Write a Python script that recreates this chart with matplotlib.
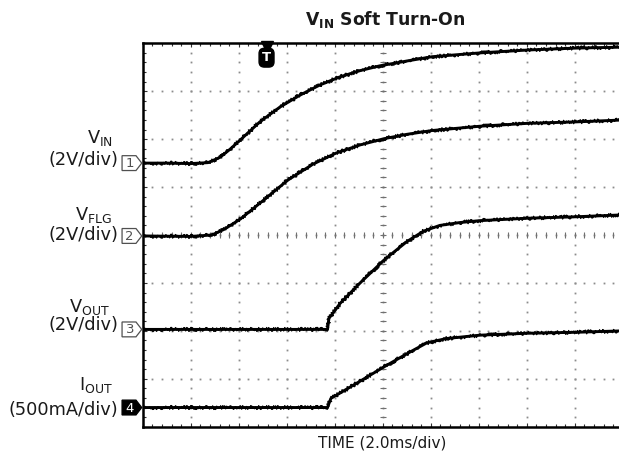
import numpy as np
import matplotlib
matplotlib.use("Agg")
import matplotlib.pyplot as plt
from matplotlib.patches import Polygon
from matplotlib.ticker import MultipleLocator

# scope traces, in screen divisions (x: 2.0ms/div, y: channel scale)
t_vin = [0, 0.5, 1.0, 1.36, 1.61, 1.82, 2.03, 2.44, 2.86, 3.28, 3.69, 4.11, 4.53, 4.94, 5.5, 6.03, 7.03, 8.02, 9.02, 10]
vin = [5.50, 5.50, 5.49, 5.51, 5.62, 5.79, 5.98, 6.36, 6.67, 6.92, 7.13, 7.30, 7.43, 7.53, 7.63, 7.72, 7.80, 7.86, 7.90, 7.92]

t_vflg = [0, 1.0, 1.44, 1.7, 2.03, 2.51, 3.03, 3.55, 4.03, 4.53, 5.03, 5.5, 6.03, 7.03, 8.02, 9.02, 10]
vflg = [3.98, 3.97, 4.00, 4.12, 4.33, 4.72, 5.15, 5.48, 5.71, 5.88, 6.01, 6.10, 6.18, 6.27, 6.33, 6.36, 6.40]

t_vout = [0, 3.85, 3.88, 4.11, 4.53, 5.03, 5.5, 5.85, 6.19, 6.61, 7.03, 8.02, 9.02, 10]
vout = [2.03, 2.03, 2.26, 2.57, 3.00, 3.48, 3.86, 4.08, 4.20, 4.26, 4.30, 4.35, 4.38, 4.42]

t_iout = [0, 3.85, 3.92, 4.53, 5.03, 5.5, 5.92, 6.33, 7.03, 8.02, 9.02, 10]
iout = [0.40, 0.40, 0.59, 0.95, 1.25, 1.52, 1.75, 1.84, 1.91, 1.95, 1.97, 2.00]

traces = [(t_vin, vin), (t_vflg, vflg), (t_vout, vout), (t_iout, iout)]
ch_names = [r"$\mathregular{V_{IN}}$", r"$\mathregular{V_{FLG}}$",
            r"$\mathregular{V_{OUT}}$", r"$\mathregular{I_{OUT}}$"]
ch_scales = ["(2V/div)", "(2V/div)", "(2V/div)", "(500mA/div)"]
trig_pos = 2.58

W, H = 619, 463
fig = plt.figure(figsize=(W / 100, H / 100), dpi=100)
fig.patch.set_facecolor("white")

def fx(px):
    return px / W

def fy(py):
    return 1 - py / H

ax = fig.add_axes([fx(142.7), fy(426.7), 480 / W, 383.4 / H])
ax.set_xlim(0, 10)
ax.set_ylim(0, 8)

# graticule: dotted lines every division, 5 dots per division
dots = np.arange(0, 10.01, 0.2)
dots_y = np.arange(0, 8.01, 0.2)
for gx in range(1, 10):
    ax.plot(np.full_like(dots_y, gx), dots_y, ls="none", marker="s", ms=1.3,
            mew=0, color="#8c8c8c", zorder=1)
for gy in range(1, 8):
    ax.plot(dots, np.full_like(dots, gy), ls="none", marker="s", ms=1.3,
            mew=0, color="#8c8c8c", zorder=1)
# centre cross has small tick marks
ax.plot(dots, np.full_like(dots, 4), ls="none", marker="|", ms=4, mew=0.8,
        color="#707070", zorder=1)
ax.plot(np.full_like(dots_y, 5), dots_y, ls="none", marker="_", ms=4, mew=0.8,
        color="#707070", zorder=1)

ax.xaxis.set_major_locator(MultipleLocator(1))
ax.xaxis.set_minor_locator(MultipleLocator(0.2))
ax.yaxis.set_major_locator(MultipleLocator(1))
ax.yaxis.set_minor_locator(MultipleLocator(0.2))
ax.tick_params(which="both", direction="in", top=True, right=True,
               labelbottom=False, labelleft=False, color="#333333", width=0.8)
ax.tick_params(which="major", length=3)
ax.tick_params(which="minor", length=2.2)
for sp in ax.spines.values():
    sp.set_linewidth(1.8)
    sp.set_color("black")

# thick trace plus fuzzy overlays for the sampling noise
for t, v in traces:
    ax.plot(t, v, color="black", lw=2.1, zorder=3, solid_capstyle="butt")
    for sc in (2.0, 1.5):
        fuzz, = ax.plot(t, v, color="black", lw=0.8, zorder=3)
        fuzz.set_sketch_params(scale=sc, length=0.35, randomness=1.2)

# channel ground markers on the left edge
for i, (t, v) in enumerate(traces):
    y0 = v[0]
    hh = 0.155
    poly = Polygon([(-0.43, y0 - hh), (-0.14, y0 - hh), (-0.02, y0),
                    (-0.14, y0 + hh), (-0.43, y0 + hh)], closed=True,
                   clip_on=False, zorder=5,
                   facecolor="black" if i == 3 else "white",
                   edgecolor="black" if i == 3 else "#505050", lw=0.9)
    ax.add_patch(poly)
    ax.text(-0.27, y0 - 0.01, str(i + 1), ha="center", va="center", fontsize=9.5,
            color="white" if i == 3 else "#505050", clip_on=False, zorder=6)

# trigger position marker
ax.plot([trig_pos], [7.93], marker="v", ms=8, color="black", clip_on=False, zorder=6)
ax.text(trig_pos, 7.70, "T", ha="center", va="center", fontsize=9.5,
        fontweight="bold", color="white", zorder=6,
        bbox=dict(boxstyle="round,pad=0.22,rounding_size=0.4", fc="black", ec="black"))

# channel labels
name_px = [(113, 143), (112, 220), (110, 312), (113, 390)]
scale_px = [(118, 165), (118, 240), (118, 330), (118, 415)]
for name, scale, (nx, ny), (sx, sy) in zip(ch_names, ch_scales, name_px, scale_px):
    fig.text(fx(nx), fy(ny), name, ha="right", va="baseline", fontsize=12.8, color="#1a1a1a")
    fig.text(fx(sx), fy(sy), scale, ha="right", va="baseline", fontsize=12.8, color="#1a1a1a")

fig.text(fx(385.5), fy(25), r"$\mathregular{V_{IN}}$ Soft Turn-On", ha="center",
         va="baseline", fontsize=12.4, fontweight="bold", color="#1a1a1a")
fig.text(fx(382), fy(448), "TIME (2.0ms/div)", ha="center", va="baseline",
         fontsize=11, color="#1a1a1a")

fig.savefig("out.png", dpi=100)
